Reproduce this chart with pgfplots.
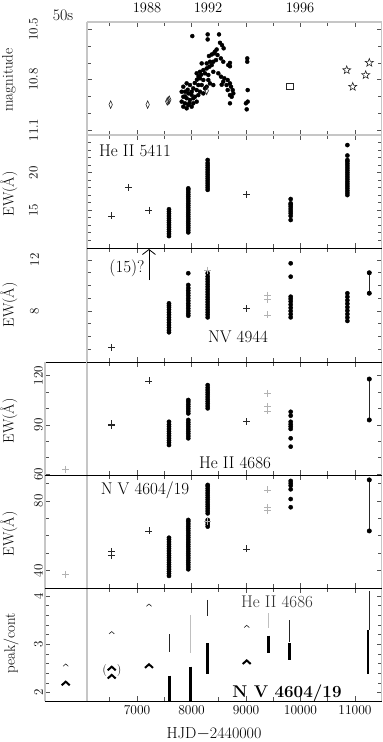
\documentclass[border=0pt]{standalone}
\usepackage{fontspec}
\usepackage{pgfplots}
\pgfplotsset{compat=1.18}
\usetikzlibrary{arrows.meta}

\newcommand\tfont{\fontsize{13.5}{15}\selectfont}
\newcommand\yfont{\fontsize{13}{15}\selectfont}
\newcommand\lfont{\fontsize{15}{17}\selectfont}
\newcommand\sfont{\fontsize{15}{17}\selectfont\addfontfeatures{LetterSpace=20}}
\newcommand\hfont{\fontsize{16}{18}\selectfont\addfontfeatures{LetterSpace=12}}
\newcommand\yrfont{\fontsize{14.5}{17}\selectfont\addfontfeatures{LetterSpace=20}}
\newcommand\afont{\fontsize{17}{19}\selectfont\addfontfeatures{LetterSpace=5}}

\pgfdeclareplotmark{caret}{%
  \pgfpathmoveto{\pgfqpoint{-\pgfplotmarksize}{-0.45\pgfplotmarksize}}%
  \pgfpathlineto{\pgfqpoint{0pt}{0.45\pgfplotmarksize}}%
  \pgfpathlineto{\pgfqpoint{\pgfplotmarksize}{-0.45\pgfplotmarksize}}%
  \pgfusepathqstroke}
\pgfdeclareplotmark{ostar}{%
  \pgfpathmoveto{\pgfpointpolar{90}{\pgfplotmarksize}}%
  \pgfpathlineto{\pgfpointpolar{126}{0.42\pgfplotmarksize}}%
  \pgfpathlineto{\pgfpointpolar{162}{\pgfplotmarksize}}%
  \pgfpathlineto{\pgfpointpolar{198}{0.42\pgfplotmarksize}}%
  \pgfpathlineto{\pgfpointpolar{234}{\pgfplotmarksize}}%
  \pgfpathlineto{\pgfpointpolar{270}{0.42\pgfplotmarksize}}%
  \pgfpathlineto{\pgfpointpolar{306}{\pgfplotmarksize}}%
  \pgfpathlineto{\pgfpointpolar{342}{0.42\pgfplotmarksize}}%
  \pgfpathlineto{\pgfpointpolar{18}{\pgfplotmarksize}}%
  \pgfpathlineto{\pgfpointpolar{54}{0.42\pgfplotmarksize}}%
  \pgfpathclose\pgfusepathqstroke}

\pgfplotsset{
  panel/.style={
    scale only axis, height=113pt,
    separate axis lines,
    x axis line style={black, line width=0.7pt},
    y axis line style={gray!45, line width=1.6pt},
    tick style={gray!65!black, line width=0.7pt},
    major tick length=5pt, minor tick length=4pt,
    xtick={7000,8000,9000,10000,11000},
    minor xtick={6500,7500,8500,9500,10500},
    xticklabels={},
    xtick pos=both, ytick pos=both, tick align=inside,
    xmax=11486,
    tick label style={font=\tfont},
    yticklabel style={font=\yfont, rotate=90, anchor=south, inner sep=2pt},
    /pgf/number format/assume math mode=true,
    scaled ticks=false,
  },
  upper/.style={panel, width=294.5pt, xmin=6083, yticklabel shift=42pt},
  lower/.style={panel, width=336.5pt, xmin=5312},
  dot/.style={only marks, mark=*, mark size=2.1pt, black},
  crs/.style={only marks, mark=+, mark size=3.5pt, gray!30!black, line width=0.6pt},
  lcrs/.style={only marks, mark=+, mark size=3.5pt, gray!60, line width=0.7pt},
  seg/.style={gray!30!black, line width=0.7pt, mark=*, mark size=2.1pt, mark options={black}},
}

\begin{document}
\begin{tikzpicture}
\path[use as bounding box] (0,0) rectangle (383pt,742pt);

% ---------- Panel 6: peak/cont ----------
\begin{axis}[lower, at={(45pt,40.5pt)}, anchor=south west, height=113.5pt,
  ymin=1.817, ymax=4.165, ytick={2,3,4}, yticklabels={2,3,4},
  minor ytick={1.8,2.2,2.4,2.6,2.8,3.2,3.4,3.6,3.8,4.2},
  xticklabels={7000,8000,9000,10000,11000}]
\draw[gray!45, line width=1.6pt] (axis description cs:0.1249,0) -- (axis description cs:0.1249,1);
% He II thin segments
\addplot[gray!30!black, line width=0.8pt, unbounded coords=jump] coordinates {
 (7593,3.21) (7593,2.85) (7700,nan)
 (8297,3.92) (8297,3.59) (8400,nan)
 (9794,3.50) (9794,3.05) (9900,nan)
 (11262,4.10) (11262,3.30)};
\addplot[gray!50, line width=1.4pt, unbounded coords=jump] coordinates {
 (7985,3.61) (7985,2.81) (8100,nan)
 (9409,3.64) (9409,3.34)};
% N V bold segments
\addplot[black, line width=2.8pt, unbounded coords=jump] coordinates {
 (7593,2.35) (7593,1.83) (7700,nan)
 (7985,2.54) (7985,1.83) (8100,nan)
 (8297,3.02) (8297,2.38) (8400,nan)
 (9409,3.18) (9409,2.81) (9500,nan)
 (9794,3.02) (9794,2.68) (9900,nan)
 (11240,3.30) (11240,2.38)};
% carets
\addplot[only marks, mark=caret, mark size=2.6pt, gray!30!black, mark options={line width=0.6pt}] coordinates {
 (5692,2.57) (6536,3.24) (7220,3.81) (9013,3.37)};
\addplot[only marks, mark=caret, mark size=4pt, black, mark options={line width=2pt}] coordinates {
 (5692,2.19) (6536,2.50) (6536,2.33) (7220,2.55) (9013,2.63)};
\end{axis}

% ---------- Panel 5: N V 4604/19 ----------
\begin{axis}[lower, at={(45pt,154pt)}, anchor=south west,
  ymin=30.07, ymax=94.9, ytick={40,80}, yticklabels={40,80},
  minor ytick={50,60,70,90}]
\draw[gray!45, line width=1.6pt] (axis description cs:0.1249,0) -- (axis description cs:0.1249,1);
\addplot[dot] coordinates {
 (7587,37.0)(7587,38.3)(7587,39.6)(7587,40.9)(7587,42.2)(7587,43.5)(7587,44.8)(7587,46.1)(7587,47.4)(7587,48.7)(7587,50.0)(7587,51.3)(7587,52.6)(7587,53.9)(7587,55.2)(7587,56.5)(7587,57.8)(7587,58.9)
 (7941,40.8)(7941,42.1)(7941,43.4)(7941,44.7)(7941,46.0)(7941,47.3)(7941,48.6)(7941,49.9)(7941,51.2)(7941,52.5)(7941,53.8)(7941,55.1)(7941,56.4)(7941,57.7)(7941,59.0)(7941,60.3)(7941,61.6)(7941,62.9)(7941,64.2)(7941,65.5)(7941,66.8)(7941,68.1)(7941,69.1)
 (8297,65.3)(8297,66.6)(8297,67.9)(8297,69.1)(8297,72.9)(8297,74.2)(8297,75.5)(8297,76.8)(8297,78.1)(8297,79.4)(8297,80.7)(8297,82.0)(8297,83.3)(8297,84.6)(8297,85.9)(8297,87.2)(8297,88.5)(8297,89.2)
 (9820,76.4)(9820,81.1)(9820,86.7)(9820,88.8)(9820,90.2)(9820,91.5)};
\addplot[seg] coordinates {(11262,62.8) (11262,92.1)};
\addplot[crs] coordinates {(6536,50.9)(6536,49.0)(7220,62.8)(9013,52.5)};
\addplot[lcrs] coordinates {(5692,37.9)(8297,68.1)(9398,86.3)(9398,76.2)(9398,74.8)};
\end{axis}

% ---------- Panel 4: He II 4686 ----------
\begin{axis}[lower, at={(45pt,267pt)}, anchor=south west,
  ymin=59.4, ymax=128.4, ytick={60,90,120}, yticklabels={60,90,120},
  minor ytick={70,80,100,110}]
\draw[gray!45, line width=1.6pt] (axis description cs:0.1249,0) -- (axis description cs:0.1249,1);
\addplot[dot] coordinates {
 (7587,77.7)(7587,79.1)(7587,80.5)(7587,81.9)(7587,83.3)(7587,84.7)(7587,86.1)(7587,87.5)(7587,88.9)(7587,90.3)(7587,91.9)
 (7941,81.8)(7941,83.2)(7941,84.6)(7941,86.0)(7941,87.4)(7941,88.8)(7941,90.2)(7941,91.6)(7941,93.0)
 (7941,97.0)(7941,98.4)(7941,99.8)(7941,101.2)(7941,102.6)(7941,104.0)(7941,105.2)
 (8297,100.1)(8297,101.5)(8297,102.9)(8297,104.3)(8297,105.7)(8297,107.1)(8297,108.5)(8297,109.9)(8297,111.3)(8297,112.7)(8297,114.3)
 (9820,76.7)(9820,81.8)(9820,87.5)(9820,89.0)(9820,90.4)(9820,91.9)(9820,95.6)(9820,98.0)};
\addplot[seg] coordinates {(11262,93.0) (11262,118.0)};
\addplot[crs] coordinates {(6536,89.6)(6536,90.6)(7220,116.8)(9013,91.9)};
\addplot[lcrs] coordinates {(5692,63.0)(9398,109.3)(9398,101.1)(9398,98.5)};
\end{axis}

% ---------- Panel 3: NV 4944 ----------
\begin{axis}[upper, at={(87pt,380pt)}, anchor=south west, height=114pt,
  ymin=4.0, ymax=12.94, ytick={8,12}, yticklabels={8,12},
  minor ytick={5,6,7,9,10,11}, yticklabel style={yshift=4pt}]
\addplot[dot] coordinates {
 (7587,6.33)(7587,6.5)(7587,6.7)(7587,6.9)(7587,7.1)(7587,7.3)(7587,7.5)(7587,7.7)(7587,7.9)(7587,8.1)(7587,8.3)(7587,8.45)(7587,8.6)
 (7941,7.63)(7941,7.8)(7941,8.0)(7941,8.2)(7941,8.4)(7941,8.6)(7941,8.8)(7941,9.0)(7941,9.2)(7941,9.4)(7941,9.6)(7941,9.8)(7941,10.04)(7941,10.96)
 (8297,7.5)(8297,7.7)(8297,7.9)(8297,8.1)(8297,8.3)(8297,8.5)(8297,8.7)(8297,8.9)(8297,9.1)(8297,9.3)(8297,9.5)(8297,9.7)(8297,9.9)(8297,10.1)(8297,10.3)(8297,10.5)(8297,10.7)(8297,10.96)
 (9820,7.5)(9820,7.75)(9820,8.0)(9820,8.25)(9820,8.5)(9820,8.75)(9820,8.95)(9820,9.12)(9820,10.69)(9820,11.74)
 (10860,7.22)(10860,7.49)(10860,7.76)(10860,8.03)(10860,8.3)(10860,8.57)(10860,8.84)(10860,9.11)(10860,9.39)};
\addplot[seg] coordinates {(11262,9.39) (11262,11.0)};
\addplot[crs] coordinates {(6536,5.15)(9013,8.2)};
\addplot[lcrs] coordinates {(8297,11.2)(9398,9.25)(9398,8.92)(9398,7.69)};
\addplot[black, line width=0.8pt, -{Straight Barb[length=5pt,width=13pt]}] coordinates {(7220,10.43) (7220,12.86)};
\end{axis}

% ---------- Panel 2: He II 5411 ----------
\begin{axis}[upper, at={(87pt,494pt)}, anchor=south west,
  ymin=9.91, ymax=25.05, ytick={15,20}, yticklabels={15,20},
  minor ytick={11,12,13,14,16,17,18,19,21,22,23,24}, yticklabel style={yshift=5pt}]
\addplot[dot] coordinates {
 (7587,11.5)(7587,11.8)(7587,12.1)(7587,12.4)(7587,12.7)(7587,13.0)(7587,13.3)(7587,13.6)(7587,13.9)(7587,14.2)(7587,14.5)(7587,14.8)(7587,15.1)
 (7941,12.0)(7941,12.3)(7941,12.6)(7941,12.9)(7941,13.2)(7941,13.5)(7941,13.8)(7941,14.1)(7941,14.4)(7941,14.7)(7941,15.0)(7941,15.3)(7941,15.6)(7941,15.9)(7941,16.2)(7941,16.5)(7941,16.8)(7941,17.1)(7941,17.4)(7941,17.7)(7941,17.9)
 (8297,17.7)(8297,18.0)(8297,18.3)(8297,18.6)(8297,18.9)(8297,19.2)(8297,19.5)(8297,19.8)(8297,20.1)(8297,20.4)(8297,20.7)(8297,21.0)(8297,21.3)(8297,21.7)
 (9820,13.66)(9820,14.2)(9820,14.56)(9820,14.85)(9820,15.15)(9820,15.45)(9820,15.7)(9820,15.9)(9820,16.47)
 (10860,17.0)(10860,17.3)(10860,17.6)(10860,17.9)(10860,18.2)(10860,18.5)(10860,18.8)(10860,19.1)(10860,19.4)(10860,19.7)(10860,20.0)(10860,20.3)(10860,20.6)(10860,20.9)(10860,21.2)(10860,21.5)(10860,21.7)(10860,22.3)(10860,23.7)};
\addplot[crs] coordinates {(6536,14.2)(6840,18.04)(7220,15.0)(9013,17.1)};
\end{axis}

% ---------- Panel 1: magnitude ----------
\begin{axis}[upper, at={(87pt,607pt)}, anchor=south west,
  y dir=reverse, ymin=10.456, ymax=11.13,
  ytick={10.5,10.8,11.1}, yticklabels={10.5,10.8,11.1},
  minor ytick={10.6,10.7,10.9,11.0},
  x axis line style={gray!45, line width=1.6pt}, yticklabel style={yshift=5pt}]
\addplot[only marks, mark=*, mark size=2pt, black] coordinates {
 (8015,10.540)(8297,10.530)(8297,10.560)(8505,10.530)(8523,10.580)(8560,10.594)(8590,10.613)
 (8413,10.643)(8321,10.659)(8477,10.653)(8538,10.673)(8450,10.683)(8583,10.693)(8675,10.713)
 (8400,10.693)(8339,10.693)(8279,10.703)(8187,10.703)(8217,10.743)(8279,10.733)(8327,10.723)
 (8371,10.713)(8156,10.753)(8095,10.762)(8248,10.762)(8309,10.772)(8400,10.753)(8492,10.762)
 (8400,10.832)(8541,10.782)(8602,10.792)(8664,10.802)(8583,10.812)(8644,10.832)(8706,10.822)
 (8725,10.842)(8664,10.862)(8756,10.862)(8767,10.882)(8737,10.902)(8706,10.892)(8706,10.941)
 (8156,10.792)(8217,10.802)(8187,10.832)(8248,10.852)(8125,10.832)(8095,10.862)(8033,10.852)
 (7972,10.832)(7911,10.822)(7850,10.842)(7881,10.872)(7941,10.882)(8003,10.872)(7850,10.902)
 (7911,10.911)(7972,10.921)(8033,10.911)(7881,10.941)(7941,10.951)(7911,10.971)(8003,10.961)
 (8064,10.902)(8125,10.892)(8156,10.872)(8217,10.882)(7820,10.872)(7820,10.931)(7850,10.961)
 (8033,10.941)(8095,10.931)(8279,10.842)(8339,10.822)(8309,10.802)
 (8430,10.633)(8462,10.620)(8370,10.650)(8130,10.780)(8060,10.820)(8000,10.890)(7930,10.860)
 (7880,10.900)(7960,10.940)(8100,10.800)(8180,10.770)(8706,10.700)(8706,10.720)(8554,10.830)
 (9023,10.673)(9023,10.693)(9031,10.862)(9031,10.931)(8998,10.941)(9013,10.977)};
\addplot[only marks, mark=diamond, mark size=3.8pt, gray!30!black, mark options={xscale=0.6, line width=0.6pt}] coordinates {
 (6517,10.949)(7196,10.949)(7555,10.930)(7574,10.925)(7593,10.920)(8279,10.866)};
\addplot[only marks, mark=square, mark size=3.2pt, gray!30!black, mark options={line width=0.6pt}] coordinates {(9807,10.838)};
\addplot[only marks, mark=ostar, mark size=4.2pt, gray!30!black, mark options={line width=0.6pt}] coordinates {
 (10848,10.743)(10958,10.842)(11196,10.772)(11262,10.699)};
\end{axis}

% ---------- texts ----------
\node[font=\fontsize{16}{18}\selectfont] at (63pt,727pt) {50s};
\node[font=\yrfont] at (147pt,734pt) {1988};
\node[font=\yrfont] at (208pt,734pt) {1992};
\node[font=\yrfont] at (300pt,734pt) {1996};
\node[rotate=90, font=\sfont] at (9pt,662pt) {magnitude};
\node[rotate=90, font=\lfont] at (9pt,548pt) {EW(Å)};
\node[rotate=90, font=\lfont] at (9pt,437pt) {EW(Å)};
\node[rotate=90, font=\lfont] at (9pt,321pt) {EW(Å)};
\node[rotate=90, font=\lfont] at (9pt,208pt) {EW(Å)};
\node[rotate=90, font=\sfont] at (11pt,98.5pt) {peak/cont};
\node[font=\hfont] at (214pt,8pt) {HJD$-$2440000};
\node[font=\afont] at (135pt,591.3pt) {He II 5411};
\node[font=\afont] at (127pt,473.5pt) {(15)?};
\node[font=\afont] at (238pt,405.3pt) {NV 4944};
\node[font=\afont] at (235pt,278.7pt) {He II 4686};
\node[font=\afont] at (145pt,251.3pt) {N V 4604/19};
\node[font=\afont, gray!40!black] at (277pt,140.3pt) {He II 4686};
\node[font=\bfseries\fontsize{17}{19}\selectfont] at (287pt,48.7pt) {N V 4604/19};
\node[font=\fontsize{12}{14}\selectfont, gray!30!black] at (112pt,71pt) {(\hspace{10pt})};
\end{tikzpicture}
\end{document}
